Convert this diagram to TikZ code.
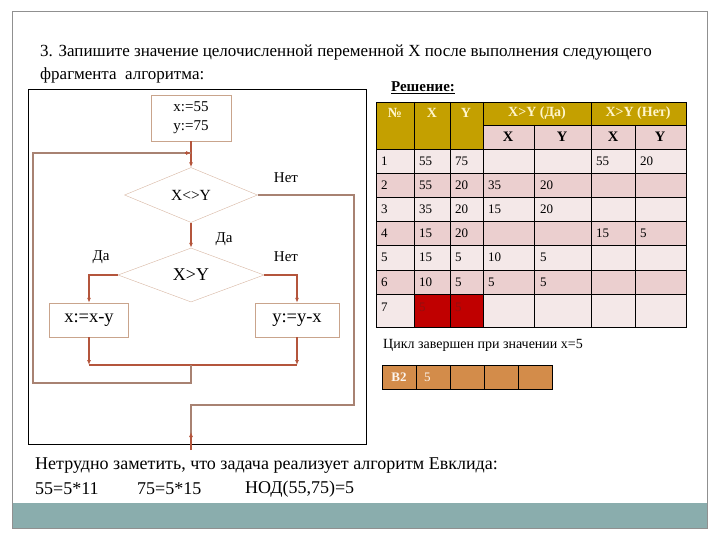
\documentclass[tikz,border=0pt]{standalone}
\usepackage{fontspec}
\setmainfont{Liberation Serif}
\usetikzlibrary{arrows.meta,positioning,shapes.geometric}
\definecolor{mBrown}{HTML}{B4553C}
\definecolor{mLoop}{HTML}{A88272}
\definecolor{mTan}{HTML}{C9A48C}
\definecolor{mSand}{HTML}{D8B6A2}
\definecolor{mGold}{HTML}{C4A000}
\definecolor{mCream}{HTML}{FFF6CC}
\definecolor{mPink}{HTML}{EBCFCF}
\definecolor{mRose}{HTML}{F4E8E8}
\definecolor{mRed}{HTML}{C00000}
\definecolor{mDark}{HTML}{8E1010}
\definecolor{mOrange}{HTML}{D38C4A}
\definecolor{mTeal}{HTML}{8AADAD}
\definecolor{mGrey}{HTML}{909090}
\tikzset{
  nd/.style   = {draw=mTan, fill=white, align=center, inner sep=2pt,
                 font=\fontsize{15}{19}\selectfont},
  dm/.style   = {diamond, draw=mSand, fill=white, shape aspect=2.4, inner sep=1pt},
  ar/.style   = {-{Latex[length=5pt,width=4pt]}, draw=mBrown, line width=1.2pt},
  ln/.style   = {draw=mBrown, line width=1.2pt},
  lp/.style   = {draw=mLoop, line width=1.2pt},
  lbl/.style  = {inner sep=0pt, font=\fontsize{15}{17}\selectfont},
  txt/.style  = {anchor=west, inner sep=0pt, font=\fontsize{18}{20}\selectfont},
  cell/.style = {anchor=west, inner sep=0pt, font=\fontsize{13}{14}\selectfont},
  hd/.style   = {inner sep=0pt, font=\fontsize{14}{15}\selectfont\bfseries, text=mCream},
  sub/.style  = {inner sep=0pt, font=\fontsize{14.5}{15}\selectfont\bfseries},
}

\begin{document}
\begin{tikzpicture}[x=1pt, y=-1pt]
  \useasboundingbox (0,0) rectangle (720,540);
  % slide frame
  \fill[mTeal] (12,503) rectangle (707,528);
  \draw[mGrey, line width=1pt] (12,12) rectangle (707,528);

  \node[txt, font=\fontsize{17}{20}\selectfont] (q1) at (40,53) {3. Запишите значение целочисленной переменной X после выполнения следующего};
  \node[txt, font=\fontsize{17}{20}\selectfont] (q2) at (40,75) {фрагмента\ \ алгоритма:};

  % flowchart
  \draw[line width=1pt] (28,90) rectangle (366,444);
  \node[nd, minimum width=80pt, minimum height=46pt] (start) at (191,118) {x:=55\\y:=75};
  \node[dm, minimum width=133pt, minimum height=55pt, font=\fontsize{15.5}{17}\selectfont] (ne) at (191,195) {X<>Y};
  \node[dm, minimum width=146pt, minimum height=54pt, font=\fontsize{18}{19}\selectfont] (gt) at (191,275) {X>Y};
  \node[nd, minimum width=79pt, minimum height=34pt, font=\fontsize{18.5}{19}\selectfont] (subx) at (89,320) {x:=x-y};
  \node[nd, minimum width=84pt, minimum height=34pt, font=\fontsize{18.5}{19}\selectfont] (suby) at (297,320) {y:=y-x};

  \coordinate (join) at (191,153);
  \coordinate (merge) at (191,365);
  \coordinate (back) at (191,383);
  \coordinate (left) at (33,383);
  \coordinate (right) at (354,195);
  \coordinate (down) at (354,405);
  \coordinate (exit) at (191,432);

  \draw[ar] (start) -- (ne);
  \draw[ar] (ne) -- (gt);
  \draw[ar] (gt.west) -| (subx.north);
  \draw[ar] (gt.east) -| (suby.north);
  \draw[ar] (subx.south) -- (subx |- merge);
  \draw[ar] (suby.south) -- (suby |- merge);
  \draw[ln] (subx |- merge) -- (suby |- merge);
  \draw[lp] (merge) -- (back) -- (left) |- (join);
  \draw[ar, draw=mBrown] ([xshift=-6pt]join) -- (join);
  \draw[lp] (ne.east) -- (right) -- (down) -| ([yshift=-18pt]exit);
  \draw[ar] ([yshift=-18pt]exit) -- (exit);

  \node[lbl] (no1) at (286,178) {Нет};
  \node[lbl] (yes1) at (224,239) {Да};
  \node[lbl] (yes2) at (101,257) {Да};
  \node[lbl] (no2) at (286,257) {Нет};

  % solution table
  \node[inner sep=0pt, font=\fontsize{15}{16}\selectfont\bfseries] (sol) at (423,88) {\underline{Решение:}};
  \fill[mGold] (376,102) rectangle (686,149);
  \fill[mPink] (483,125) rectangle (686,149);
  \foreach \n/\ya/\yb/\fc in {1/149/173/mRose,2/173/197/mPink,3/197/221/mRose,
      4/221/245/mPink,5/245/270/mRose,6/270/294/mPink,7/294/327/mRose}
    \fill[\fc] (376,\ya) rectangle (686,\yb);
  \fill[mRed] (414,294) rectangle (483,327);

  \node[hd] (hn) at (395,113) {№};
  \node[hd] (hx) at (432,113) {X};
  \node[hd] (hy) at (466,113) {Y};
  \node[hd] (hyes) at (537,113) {X>Y (Да)};
  \node[hd] (hno) at (638,113) {X>Y (Нет)};
  \foreach \x/\t in {508/X,562/Y,613/X,660/Y}
    \node[sub] at (\x,137) {\t};

  \foreach \n/\ym/\vx/\vy/\ax/\ay/\bx/\by in {1/161/55/75/{}/{}/55/20,
      2/185/55/20/35/20/{}/{},3/209/35/20/15/20/{}/{},4/233/15/20/{}/{}/15/5,
      5/257/15/5/10/5/{}/{},6/282/10/5/5/5/{}/{}} {
    \node[cell] (n\n) at (381,\ym) {\n};
    \node[cell] at (419,\ym) {\vx};
    \node[cell] at (455,\ym) {\vy};
    \node[cell] at (488,\ym) {\ax};
    \node[cell] at (540,\ym) {\ay};
    \node[cell] at (596,\ym) {\bx};
    \node[cell] at (640,\ym) {\by};
  }
  \node[cell] (n7) at (381,307) {7};
  \node[cell, text=mDark] (x7) at (419,307) {5};
  \node[cell, text=mDark] (y7) at (455,307) {5};

  \draw[line width=0.8pt] (376,102) rectangle (686,327);
  \foreach \y in {149,173,197,221,245,270,294}
    \draw[line width=0.8pt] (376,\y) -- (686,\y);
  \draw[line width=0.8pt] (483,125) -- (686,125);
  \foreach \x in {414,450,483,591}
    \draw[line width=0.8pt] (\x,102) -- (\x,327);
  \foreach \x in {534,635}
    \draw[line width=0.8pt] (\x,125) -- (\x,327);

  \node[cell, font=\fontsize{14}{15}\selectfont] (done) at (383,345) {Цикл завершен при значении x=5};

  % answer row
  \fill[mOrange] (382,365) rectangle (552,389);
  \draw[line width=0.8pt] (382,365) rectangle (552,389);
  \foreach \x in {416,450,484,518}
    \draw[line width=0.8pt] (\x,365) -- (\x,389);
  \node[hd, font=\fontsize{13}{14}\selectfont\bfseries, text=white!90!mOrange] (ans) at (399,377) {В2};
  \node[cell, text=white!90!mOrange] (five) at (424,377) {5};

  \node[txt] (note) at (35,466) {Нетрудно заметить, что задача реализует алгоритм Евклида:};
  \node[txt] (f1) at (35,489) {55=5*11};
  \node[txt] (f2) at (137,489) {75=5*15};
  \node[txt] (f3) at (245,489) {НОД(55,75)=5};
\end{tikzpicture}
\end{document}
